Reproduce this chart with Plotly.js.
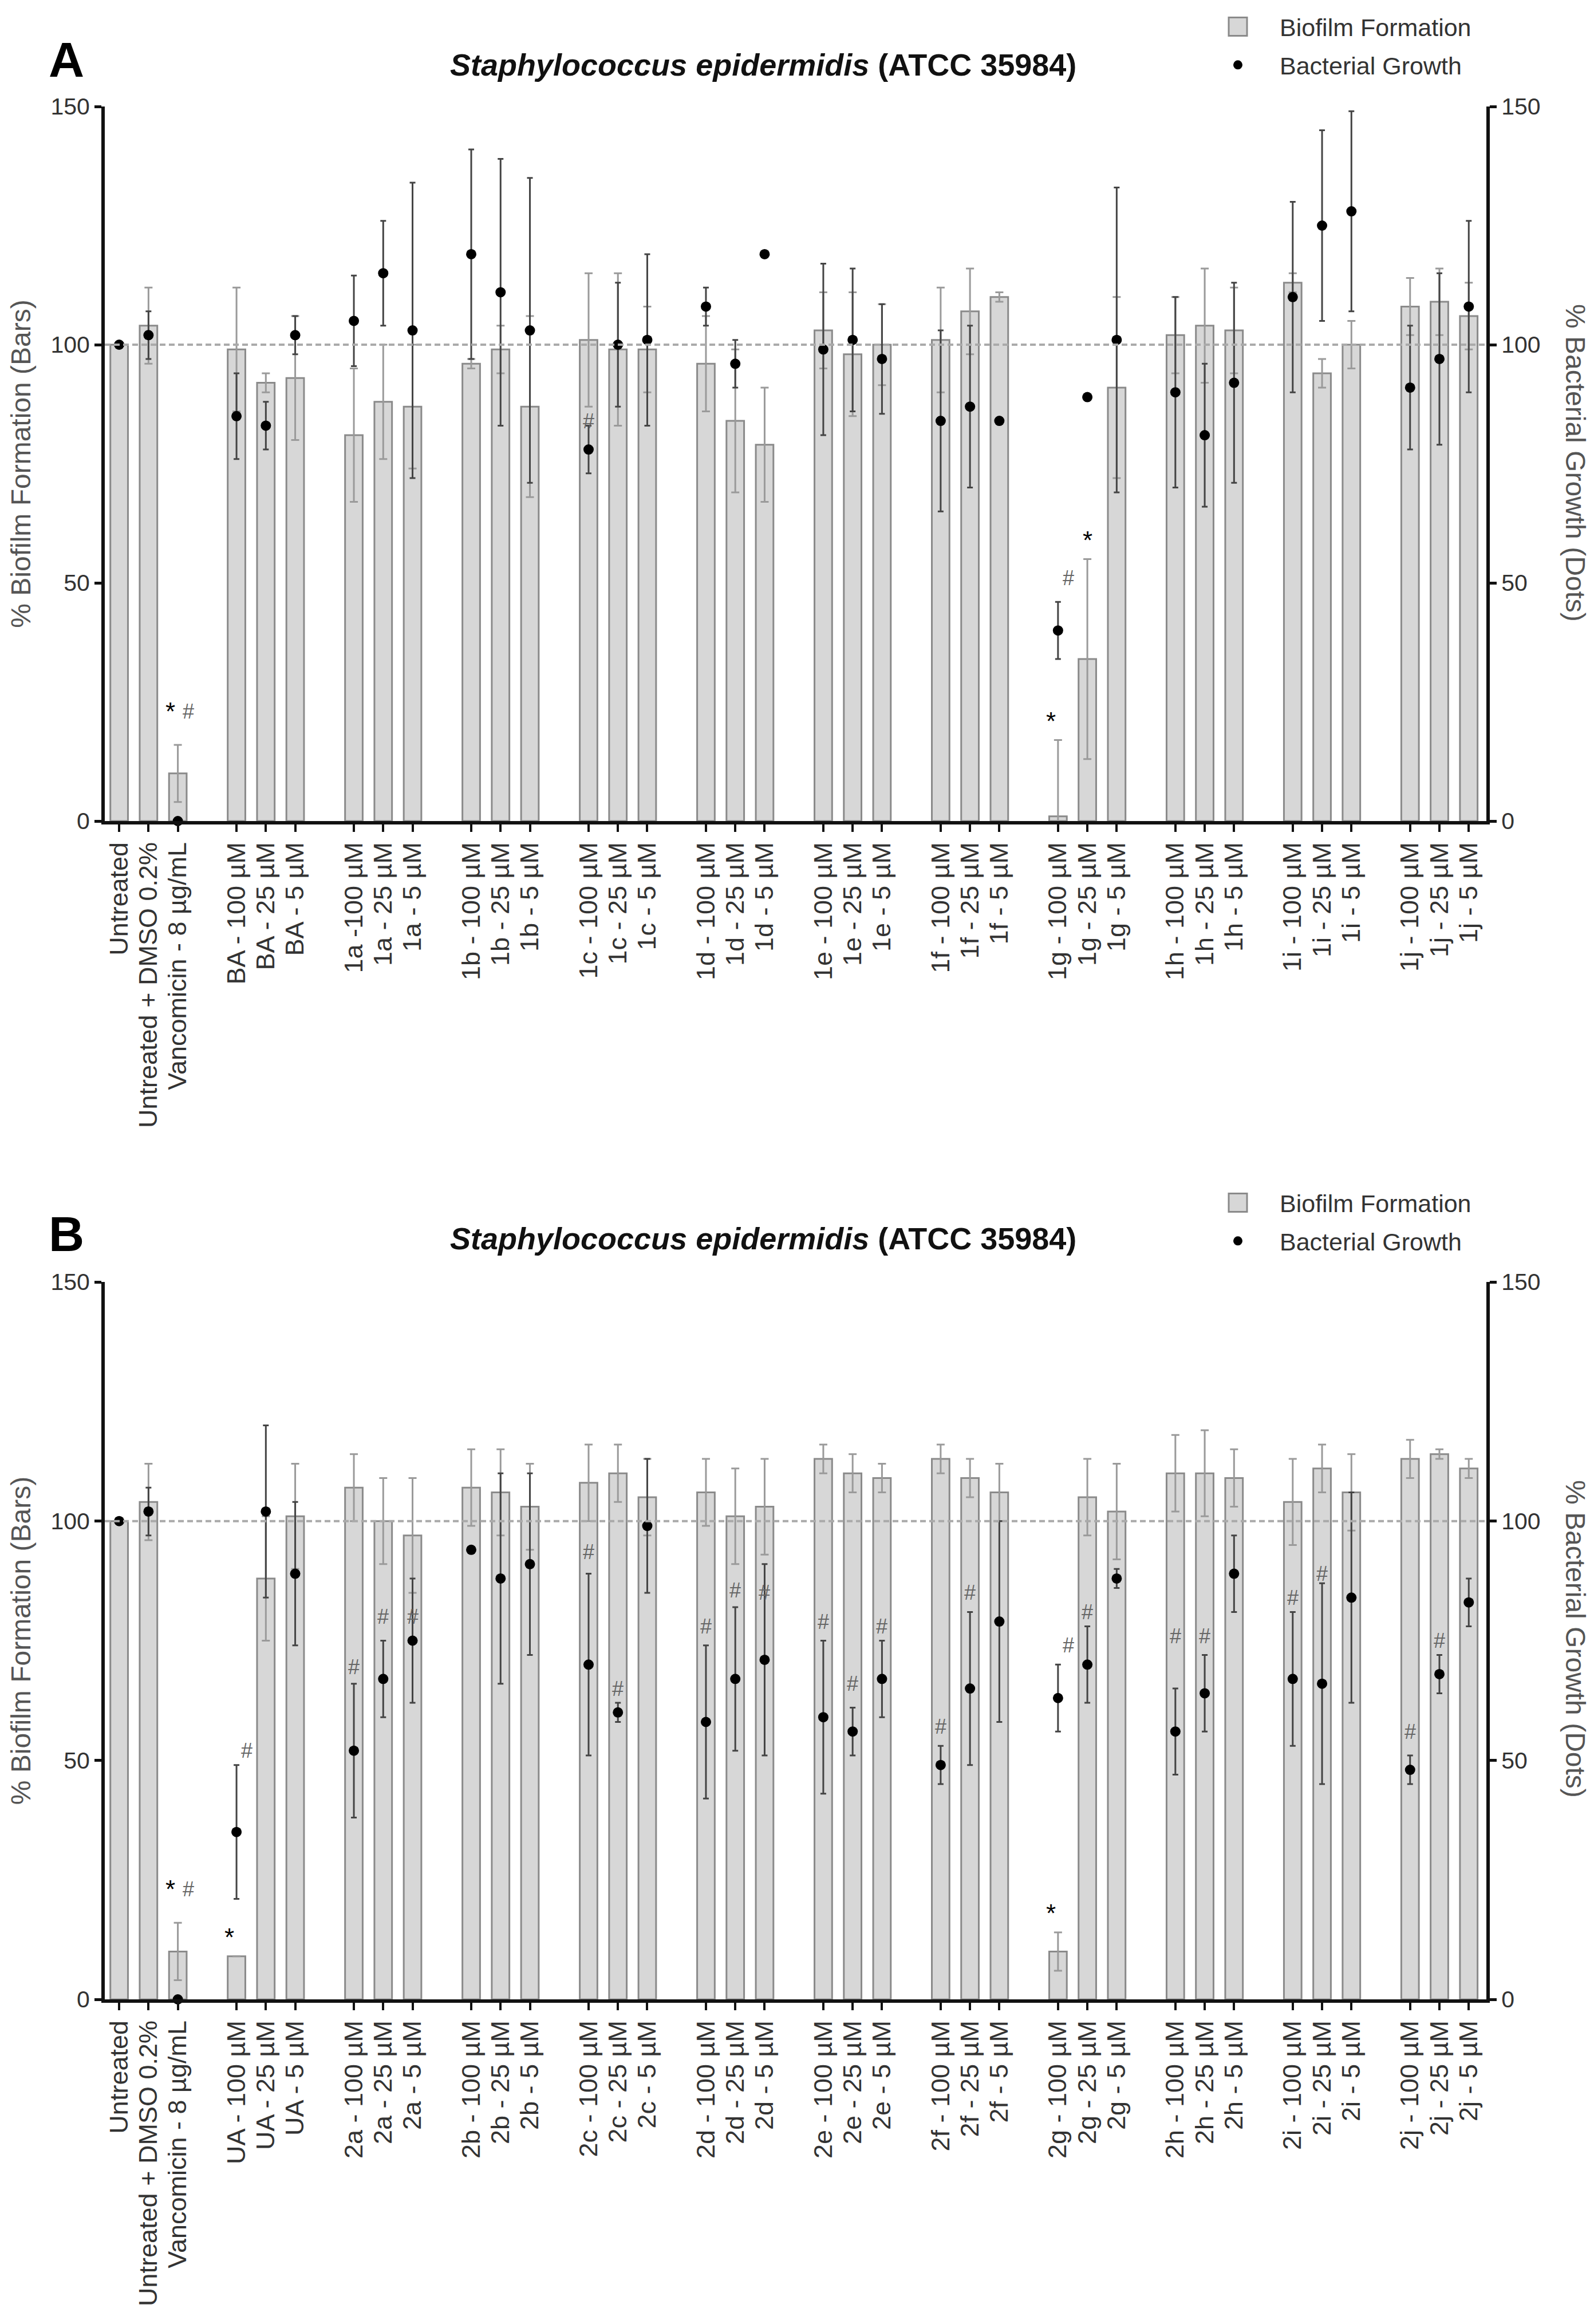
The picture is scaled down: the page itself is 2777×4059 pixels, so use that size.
<!DOCTYPE html>
<html>
<head>
<meta charset="utf-8">
<script src="https://cdn.plot.ly/plotly-3.0.1.min.js"></script>
<style>html,body{margin:0;padding:0;background:#fff;}#chart{width:2777px;height:4059px;}</style>
</head>
<body>
<div id="chart"></div>
<script>
// ---------------- DATA ----------------
const labelsA = ["Untreated","Untreated + DMSO 0.2%","Vancomicin - 8 µg/mL",
  "BA - 100 µM","BA - 25 µM","BA - 5 µM",
  "1a -100 µM","1a - 25 µM","1a - 5 µM",
  "1b - 100 µM","1b - 25 µM","1b - 5 µM",
  "1c - 100 µM","1c - 25 µM","1c - 5 µM",
  "1d - 100 µM","1d - 25 µM","1d - 5 µM",
  "1e - 100 µM","1e - 25 µM","1e - 5 µM",
  "1f - 100 µM","1f - 25 µM","1f - 5 µM",
  "1g - 100 µM","1g - 25 µM","1g - 5 µM",
  "1h - 100 µM","1h - 25 µM","1h - 5 µM",
  "1i - 100 µM","1i - 25 µM","1i - 5 µM",
  "1j - 100 µM","1j - 25 µM","1j - 5 µM"];
const biofilmA    = [100,104,10, 99,92,93, 81,88,87, 96,99,87, 101,99,99, 96,84,79, 103,98,100, 101,107,110, 1,34,91, 102,104,103, 113,94,100, 108,109,106];
const biofilmErrA = [0,8,6, 13,2,13, 14,12,13, 1,5,19, 14,16,9, 10,15,12, 8,13,8.5, 11,9,1, 16,21,19, 8,12,9, 2,3,5, 6,7,7];
const growthA     = [100,102,0, 85,83,102, 105,115,103, 119,111,103, 78,100,101, 108,96,119, 99,101,97, 84,87,84, 40,89,101, 90,81,92, 110,125,128, 91,97,108];
const growthErrA  = [0,5,0, 9,5,4, 9.5,11,31, 22,28,32, 5,13,18, 4,5,0, 18,15,11.5, 19,17,0, 6,0,32, 20,15,21, 20,20,21, 13,18,18];
// significance marks: index of category and level (%) where the mark sits
const starIdxA = [2, 24, 25];  const starLevelA = [23, 21, 59];
const hashIdxA = [2, 12, 24];  const hashLevelA = [23, 84, 51];

const labelsB = ["Untreated","Untreated + DMSO 0.2%","Vancomicin - 8 µg/mL",
  "UA - 100 µM","UA - 25 µM","UA - 5 µM",
  "2a - 100 µM","2a - 25 µM","2a - 5 µM",
  "2b - 100 µM","2b - 25 µM","2b - 5 µM",
  "2c - 100 µM","2c - 25 µM","2c - 5 µM",
  "2d - 100 µM","2d - 25 µM","2d - 5 µM",
  "2e - 100 µM","2e - 25 µM","2e - 5 µM",
  "2f - 100 µM","2f - 25 µM","2f - 5 µM",
  "2g - 100 µM","2g - 25 µM","2g - 5 µM",
  "2h - 100 µM","2h - 25 µM","2h - 5 µM",
  "2i - 100 µM","2i - 25 µM","2i - 5 µM",
  "2j - 100 µM","2j - 25 µM","2j - 5 µM"];
const biofilmB    = [100,104,10, 9,88,101, 107,100,97, 107,106,103, 108,110,105, 106,101,103, 113,110,109, 113,109,106, 10,105,102, 110,110,109, 104,111,106, 113,114,111];
const biofilmErrB = [0,8,6, 0,13,11, 7,9,12, 8,9,9, 8,6,8, 7,10,10, 3,4,3, 3,4,6, 4,8,10, 8,9,6, 9,5,8, 4,1,2];
const growthB     = [100,102,0, 35,102,89, 52,67,75, 94,88,91, 70,60,99, 58,67,71, 59,56,67, 49,65,79, 63,70,88, 56,64,89, 67,66,84, 48,68,83];
const growthErrB  = [0,5,0, 14,18,15, 14,8,13, 0,22,19, 19,2,14, 16,15,20, 16,5,8, 4,16,21, 7,8,2, 9,8,8, 14,21,22, 3,4,5];
const starIdxB = [2, 3, 24];   const starLevelB = [23, 13, 18];
const hashIdxB = [2, 3, 6, 7, 8, 12, 13, 15, 16, 17, 18, 19, 20, 21, 22, 24, 25, 27, 28, 30, 31, 33, 34];
const hashLevelB = [23, 52, 69.5, 80, 80, 93.5, 65, 78, 85.5, 85, 79, 66, 78, 57, 85, 74, 81, 76, 76, 84, 89, 56, 75];

const titleText = "<b><i>Staphylococcus epidermidis</i> (ATCC 35984)</b>";
const seriesNames = ["Biofilm Formation", "Bacterial Growth"];

// ---------------- LAYOUT HELPERS ----------------
const W = 2777, H = 4059;
const fx = v => v / W;
const fy = v => 1 - v / H;
const FONT = "Liberation Sans, Arial, Helvetica, sans-serif";
// categories come in groups of three separated by a one-slot gap
const posOf = labels => labels.map((_, i) => Math.floor(i / 3) * 4 + (i % 3));
const xA = posOf(labelsA), xB = posOf(labelsB);
const XR = [-0.49, 46.6];

function barTrace(x, y, err, xa, ya, legend, grp) {
  return {type: 'bar', x: x, y: y, xaxis: xa, yaxis: ya, name: seriesNames[0], legend: legend, legendgroup: grp,
    width: 0.6, marker: {color: '#d7d7d7', line: {color: '#8a8a8a', width: 3}},
    error_y: {type: 'data', array: err, visible: true, color: '#9a9a9a', thickness: 3, width: 7}};
}
function dotTrace(x, y, err, xa, ya, legend, grp) {
  return {type: 'scatter', mode: 'markers', x: x, y: y, xaxis: xa, yaxis: ya, name: seriesNames[1], legend: legend, legendgroup: grp,
    marker: {color: '#000', size: 18, symbol: 'circle'}, cliponaxis: false,
    error_y: {type: 'data', array: err, visible: true, color: '#444', thickness: 3, width: 5}};
}
const data = [
  barTrace(xA, biofilmA, biofilmErrA, 'x', 'y', 'legend', 'a1'),
  dotTrace(xA, growthA, growthErrA, 'x', 'y2', 'legend', 'a2'),
  barTrace(xB, biofilmB, biofilmErrB, 'x2', 'y3', 'legend2', 'b1'),
  dotTrace(xB, growthB, growthErrB, 'x2', 'y4', 'legend2', 'b2')
];

const tickFont = {family: FONT, size: 41, color: '#333'};
function yAxis(domain, anchor, side, overlay, title) {
  const a = {domain: domain, anchor: anchor, side: side, range: [0, 150], tickvals: [0, 50, 100, 150],
    ticks: 'outside', ticklen: 12, tickwidth: 5, tickcolor: '#111', showline: true, linewidth: 6, linecolor: '#111',
    showgrid: false, zeroline: false, tickfont: tickFont, fixedrange: true};
  if (overlay) a.overlaying = overlay;
  if (title) a.title = {text: title, font: {family: FONT, size: 48, color: '#555'}, standoff: 22};
  return a;
}
function xAxis(domain, anchor, x, labels) {
  return {domain: domain, anchor: anchor, range: XR, tickmode: 'array', tickvals: x, ticktext: labels,
    tickangle: -90, ticks: 'outside', ticklen: 13, tickwidth: 4, tickcolor: '#111',
    showline: true, linewidth: 6, linecolor: '#111', showgrid: false, zeroline: false,
    tickfont: {family: FONT, size: 45, color: '#333'}, fixedrange: true};
}
const xDom = [fx(183), fx(2596)];
const yDomA = [fy(1434), fy(186)];
const yDomB = [fy(3492), fy(2239)];

function marks(xs, idx, levels, ch, xref, yref, other) {
  return idx.map((k, j) => {
    const both = other.indexOf(k) >= 0;
    const dx = both ? (ch === '*' ? -0.25 : 0.35) : 0;
    return {x: xs[k] + dx, y: levels[j], xref: xref, yref: yref, text: ch, showarrow: false,
      font: ch === '*' ? {family: FONT, size: 44, color: '#000'} : {family: FONT, size: 36, color: '#666'},
      xanchor: 'center', yanchor: 'middle'};
  });
}
const paperNote = (text, x, y, size, color, angle) => ({text: text, x: fx(x), y: fy(y), xref: 'paper', yref: 'paper',
  showarrow: false, xanchor: 'center', yanchor: 'middle', textangle: angle || 0, font: {family: FONT, size: size, color: color}});

const annotations = [
  paperNote('<b>A</b>', 116, 104, 86, '#000'),
  paperNote('<b>B</b>', 116, 2155, 86, '#000'),
  paperNote(titleText, 1333, 113, 54, '#111'),
  paperNote(titleText, 1333, 2163, 54, '#111'),
  paperNote('% Bacterial Growth (Dots)', 2752, 808, 48, '#555', 90),
  paperNote('% Bacterial Growth (Dots)', 2752, 2862, 48, '#555', 90)
].concat(
  marks(xA, starIdxA, starLevelA, '*', 'x', 'y', hashIdxA),
  marks(xA, hashIdxA, hashLevelA, '#', 'x', 'y', starIdxA),
  marks(xB, starIdxB, starLevelB, '*', 'x2', 'y3', hashIdxB),
  marks(xB, hashIdxB, hashLevelB, '#', 'x2', 'y3', starIdxB)
);

const refLine = (xref, yref) => ({type: 'line', xref: xref + ' domain', x0: 0, x1: 1, yref: yref, y0: 100, y1: 100,
  line: {color: '#aaaaaa', width: 4, dash: '10px,6px'}, layer: 'above'});

const legendCfg = top => ({x: fx(2089), y: fy(top), xanchor: 'left', yanchor: 'top', bgcolor: 'rgba(0,0,0,0)',
  font: {family: FONT, size: 43, color: '#333'}, itemwidth: 136, traceorder: 'grouped', tracegroupgap: 8});

const layout = {
  width: W, height: H, margin: {l: 0, r: 0, t: 0, b: 0}, paper_bgcolor: '#fff', plot_bgcolor: 'rgba(0,0,0,0)',
  showlegend: true, barmode: 'overlay', font: {family: FONT},
  xaxis: xAxis(xDom, 'y', xA, labelsA),
  yaxis: yAxis(yDomA, 'x', 'left', null, '% Biofilm Formation (Bars)'),
  yaxis2: yAxis(yDomA, 'x', 'right', 'y', null),
  xaxis2: xAxis(xDom, 'y3', xB, labelsB),
  yaxis3: yAxis(yDomB, 'x2', 'left', null, '% Biofilm Formation (Bars)'),
  yaxis4: yAxis(yDomB, 'x2', 'right', 'y3', null),
  legend: legendCfg(12),
  legend2: legendCfg(2066),
  shapes: [refLine('x', 'y'), refLine('x2', 'y3')],
  annotations: annotations
};

function enlargeLegendBars(gd) {
  gd.querySelectorAll('g.legend .traces, g.legend2 .traces').forEach(tr => {
    const d = tr.__data__;
    const t = d && d[0] && d[0].trace;
    if (t && t.type === 'bar') {
      tr.querySelectorAll('.legendpoints path').forEach(p => {
        p.setAttribute('d', 'M16,16H-16V-16H16Z');
        p.style.strokeWidth = '3px';
      });
    }
  });
}
Plotly.newPlot('chart', data, layout, {staticPlot: true}).then(gd => { enlargeLegendBars(gd); });
</script>
</body>
</html>
